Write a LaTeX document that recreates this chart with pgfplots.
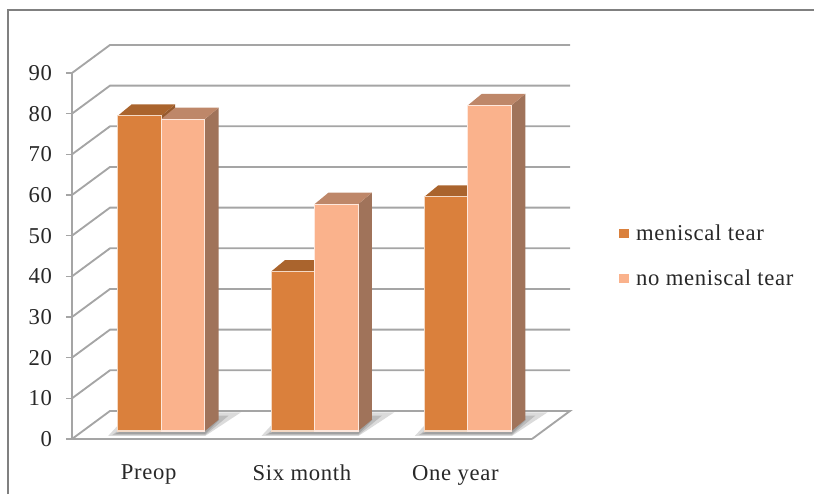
\documentclass[border=0pt]{standalone}
\usepackage{fontspec}
\setmainfont[LetterSpace=3]{Liberation Serif}
\usepackage{pgfplots}
\pgfplotsset{compat=1.18}
\definecolor{tearfront}{RGB}{218,128,60}
\definecolor{teartop}{RGB}{170,100,45}
\definecolor{tearside}{RGB}{150,90,45}
\definecolor{notearfront}{RGB}{250,178,140}
\definecolor{noteartop}{RGB}{190,135,105}
\definecolor{noteartside}{RGB}{160,115,90}
\definecolor{gridgray}{RGB}{165,165,165}
\definecolor{labelgray}{RGB}{40,40,40}
\definecolor{framegray}{RGB}{128,128,128}
\begin{document}
\begin{tikzpicture}
\path[use as bounding box] (0pt,0pt) rectangle (610.5pt,370.5pt);
% outer chart frame, open on the bottom edge
\draw[framegray,line width=1.2pt] (6pt,0pt) -- (6pt,363pt) -- (610.5pt,363pt);

% walls, floor and scale
\begin{axis}[
  at={(54pt,41.25pt)},anchor=south west,
  scale only axis,width=345pt,height=274.5pt,
  xmin=0,xmax=3,ymin=0,ymax=90,clip=false,
  axis x line*=bottom,axis y line*=left,
  axis line style={gridgray,line width=1.4pt,-},
  tick style={gridgray,line width=1.2pt},
  tick align=outside,major tick length=4.5pt,minor tick length=4pt,
  xtick={0.5,1.5,2.5},xticklabels={Preop,Six month,One year},
  x tick style={draw=none},
  minor xtick={0,1,2,3},
  minor x tick style={gridgray,line width=1.2pt},
  ytick={0,10,...,90},
  /pgf/number format/assume math mode=true,
  tick label style={font=\fontsize{17}{20}\selectfont,text=labelgray},
  yticklabel style={xshift=-7pt},
  xticklabel style={yshift=-11.5pt},
]
\addplot[gridgray,line width=1.4pt,unbounded coords=jump] coordinates {
  (0,0)(0.248,6.9)(3.248,6.9)(3,0)
  (nan,nan)
  (0,10)(0.248,16.9)(3.248,16.9) (nan,nan)
  (0,20)(0.248,26.9)(3.248,26.9) (nan,nan)
  (0,30)(0.248,36.9)(3.248,36.9) (nan,nan)
  (0,40)(0.248,46.9)(3.248,46.9) (nan,nan)
  (0,50)(0.248,56.9)(3.248,56.9) (nan,nan)
  (0,60)(0.248,66.9)(3.248,66.9) (nan,nan)
  (0,70)(0.248,76.9)(3.248,76.9) (nan,nan)
  (0,80)(0.248,86.9)(3.248,86.9) (nan,nan)
  (0,90)(0.248,96.9)(3.248,96.9)
};
\end{axis}

% bars, standing a little behind the front edge of the floor
\begin{axis}[
  at={(63.45pt,47.25pt)},anchor=south west,
  scale only axis,width=345pt,height=274.5pt,
  xmin=0,xmax=3,ymin=0,ymax=90,clip=false,
  hide axis,
  ybar=0pt,bar width=32.6pt,
  legend style={at={(1.161,0.478)},anchor=west,draw=none,fill=none,
    font=\fontsize{17}{20}\selectfont,text=labelgray,
    row sep=20.5pt,inner sep=0pt,
    nodes={inner sep=0pt}},
  legend cell align=left,
  legend image code/.code={\fill[#1,draw=none] (0pt,-3.5pt) rectangle (7.5pt,3.5pt);\path (12.5pt,0pt);},
]
% floor shadows, three nested layers for a soft edge
\pgfplotsset{shadow/.style={forget plot,draw=none,fill=black,fill opacity=0.14,ybar legend,sharp plot}}
\addplot[shadow] coordinates {(0.154,-1.2)(0.787,-1.2)(1.02,4.6)(0.787,4.6)(0.22,1.5)} -- cycle;
\addplot[shadow] coordinates {(0.18,-1.0)(0.787,-1.0)(0.94,3.8)(0.787,3.8)(0.26,1.2)} -- cycle;
\addplot[shadow] coordinates {(0.2,-0.7)(0.787,-0.7)(0.88,2.8)(0.787,3.0)(0.3,1.0)} -- cycle;
\addplot[shadow] coordinates {(1.154,-1.2)(1.787,-1.2)(2.02,4.6)(1.787,4.6)(1.22,1.5)} -- cycle;
\addplot[shadow] coordinates {(1.18,-1.0)(1.787,-1.0)(1.94,3.8)(1.787,3.8)(1.26,1.2)} -- cycle;
\addplot[shadow] coordinates {(1.2,-0.7)(1.787,-0.7)(1.88,2.8)(1.787,3.0)(1.3,1.0)} -- cycle;
\addplot[shadow] coordinates {(2.154,-1.2)(2.787,-1.2)(3.02,4.6)(2.787,4.6)(2.22,1.5)} -- cycle;
\addplot[shadow] coordinates {(2.18,-1.0)(2.787,-1.0)(2.94,3.8)(2.787,3.8)(2.26,1.2)} -- cycle;
\addplot[shadow] coordinates {(2.2,-0.7)(2.787,-0.7)(2.88,2.8)(2.787,3.0)(2.3,1.0)} -- cycle;

% receding faces: tops and right-hand sides
\pgfplotsset{face/.style={forget plot,draw=none,sharp plot}}
\addplot[face,fill=tearside] coordinates {(0.5,0)(0.59,2.8)(0.59,80.3)(0.5,77.5)} -- cycle;
\addplot[face,fill=teartop] coordinates {(0.216,77.5)(0.5,77.5)(0.59,80.3)(0.306,80.3)} -- cycle;
\addplot[face,fill=tearside] coordinates {(1.5,0)(1.59,2.8)(1.59,42.0)(1.5,39.2)} -- cycle;
\addplot[face,fill=teartop] coordinates {(1.216,39.2)(1.5,39.2)(1.59,42.0)(1.306,42.0)} -- cycle;
\addplot[face,fill=tearside] coordinates {(2.5,0)(2.59,2.8)(2.59,60.4)(2.5,57.6)} -- cycle;
\addplot[face,fill=teartop] coordinates {(2.216,57.6)(2.5,57.6)(2.59,60.4)(2.306,60.4)} -- cycle;

\addplot[face,fill=noteartside] coordinates {(0.784,0)(0.874,2.8)(0.874,79.5)(0.784,76.7)} -- cycle;
\addplot[face,fill=noteartop] coordinates {(0.5,76.7)(0.784,76.7)(0.874,79.5)(0.59,79.5)} -- cycle;
\addplot[face,fill=noteartside] coordinates {(1.784,0)(1.874,2.8)(1.874,58.6)(1.784,55.8)} -- cycle;
\addplot[face,fill=noteartop] coordinates {(1.5,55.8)(1.784,55.8)(1.874,58.6)(1.59,58.6)} -- cycle;
\addplot[face,fill=noteartside] coordinates {(2.784,0)(2.874,2.8)(2.874,82.9)(2.784,80.1)} -- cycle;
\addplot[face,fill=noteartop] coordinates {(2.5,80.1)(2.784,80.1)(2.874,82.9)(2.59,82.9)} -- cycle;

% front faces
\addplot[fill=tearfront,draw=white!70!tearfront,line width=0.8pt] coordinates {(0.5,77.5)(1.5,39.2)(2.5,57.6)};
\addplot[fill=notearfront,draw=white!70!notearfront,line width=0.8pt] coordinates {(0.5,76.7)(1.5,55.8)(2.5,80.1)};
\legend{meniscal tear,no meniscal tear}
\end{axis}
\end{tikzpicture}
\end{document}
